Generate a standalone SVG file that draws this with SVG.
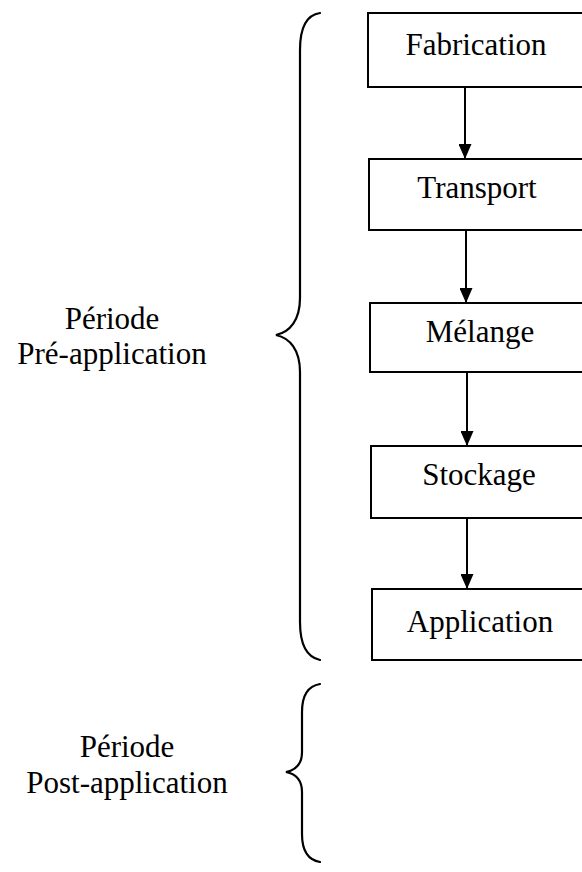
<svg xmlns="http://www.w3.org/2000/svg" width="582" height="872" viewBox="0 0 582 872">
  <style>
    .box { fill: #fff; stroke: #000; stroke-width: 2; }
    .lbl { font-family: "Liberation Serif", "Times New Roman", serif; font-size: 31px; fill: #000; }
    .brace { fill: none; stroke: #000; stroke-width: 2.2; stroke-linecap: round; }
    .link { stroke: #000; stroke-width: 2; fill: none; }
  </style>
  <defs>
    <marker id="arr" viewBox="0 0 15 13" refX="15" refY="6.5" markerWidth="15" markerHeight="13" markerUnits="userSpaceOnUse" orient="auto">
      <path d="M0,0 L15,6.5 L0,13 Z" fill="#000"/>
    </marker>
  </defs>
  <rect width="582" height="872" fill="#fff"/>

  <!-- process steps -->
  <g id="fabrication">
    <rect class="box" x="368" y="13" width="240" height="74"/>
    <text class="lbl" x="476" y="55" text-anchor="middle">Fabrication</text>
  </g>
  <g id="transport">
    <rect class="box" x="369" y="159" width="240" height="71"/>
    <text class="lbl" x="477" y="198" text-anchor="middle">Transport</text>
  </g>
  <g id="melange">
    <rect class="box" x="370" y="303" width="240" height="69"/>
    <text class="lbl" x="480" y="342" text-anchor="middle">Mélange</text>
  </g>
  <g id="stockage">
    <rect class="box" x="371" y="446" width="240" height="72"/>
    <text class="lbl" x="479" y="485" text-anchor="middle">Stockage</text>
  </g>
  <g id="application">
    <rect class="box" x="372" y="589" width="240" height="71"/>
    <text class="lbl" x="480" y="632" text-anchor="middle">Application</text>
  </g>

  <!-- connectors -->
  <g id="connectors">
    <line class="link" x1="465" y1="87" x2="465" y2="159" marker-end="url(#arr)"/>
    <line class="link" x1="466" y1="230" x2="466" y2="303" marker-end="url(#arr)"/>
    <line class="link" x1="467" y1="372" x2="467" y2="446" marker-end="url(#arr)"/>
    <line class="link" x1="467" y1="518" x2="467" y2="589" marker-end="url(#arr)"/>
  </g>

  <!-- period braces -->
  <g id="pre-application">
    <path class="brace" d="M320,13 C306,15 300,28 300,50 L300,298 C300,320 290,332 276,335 C290,338 300,350 300,372 L300,622 C300,644 306,657 320,660"/>
    <text class="lbl" x="112" y="329" text-anchor="middle">Période</text>
    <text class="lbl" x="112" y="364" text-anchor="middle">Pré-application</text>
  </g>
  <g id="post-application">
    <path class="brace" d="M320,684 C308,686 302,696 302,712 L302,752 C302,764 296,770 286,772 C296,774 302,780 302,792 L302,834 C302,850 308,860 320,862"/>
    <text class="lbl" x="127" y="757" text-anchor="middle">Période</text>
    <text class="lbl" x="127" y="793" text-anchor="middle">Post-application</text>
  </g>
</svg>
